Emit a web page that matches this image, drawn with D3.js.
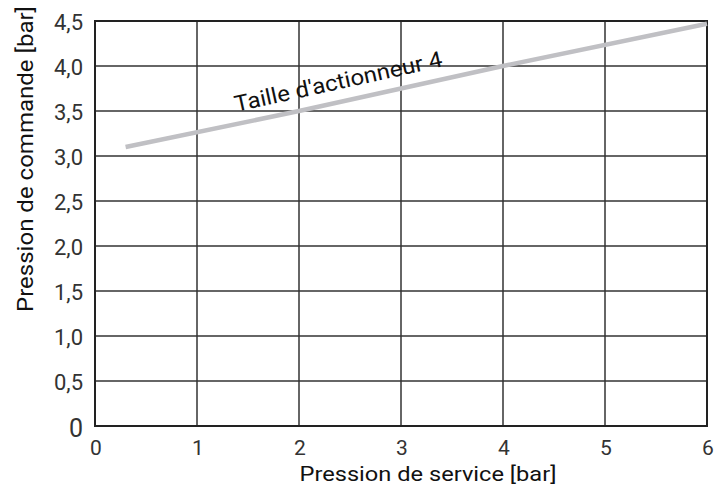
<!DOCTYPE html>
<html><head><meta charset="utf-8">
<script src="https://cdn.jsdelivr.net/npm/d3@7"></script>
<style>body{margin:0;background:#fff;} svg{display:block;font-family:Roboto, "Noto Sans", sans-serif;}</style>
</head><body>
<svg id="c" width="718" height="488"></svg>
<script>
const xTicks = [0,1,2,3,4,5,6];
const xTickLabels = ["0","1","2","3","4","5","6"];
const yTicks = [0,0.5,1,1.5,2,2.5,3,3.5,4,4.5];
const yTickLabels = ["0","0,5","1,0","1,5","2,0","2,5","3,0","3,5","4,0","4,5"];
const seriesX = [0.3, 2, 4, 6];
const seriesY = [3.1, 3.5, 4.0, 4.47];
const seriesName = "Taille d'actionneur 4";
const xTitle = "Pression de service [bar]";
const yTitle = "Pression de commande [bar]";

const m = {l:95, r:11, t:21, b:62};
const W = 718, H = 488;
const svg = d3.select("#c");
const x = d3.scaleLinear().domain([0,6]).range([m.l, W-m.r]);
const y = d3.scaleLinear().domain([0,4.5]).range([H-m.b, m.t]);

const g = svg.append("g");
g.selectAll(".vg").data(xTicks).join("line")
  .attr("x1",d=>x(d)).attr("x2",d=>x(d)).attr("y1",y(0)).attr("y2",y(4.5))
  .attr("stroke","#333").attr("stroke-width",1.5);
g.selectAll(".hg").data(yTicks).join("line")
  .attr("y1",d=>y(d)).attr("y2",d=>y(d)).attr("x1",x(0)).attr("x2",x(6))
  .attr("stroke","#333").attr("stroke-width",1.5);
g.append("rect").attr("x",x(0)).attr("y",y(4.5)).attr("width",x(6)-x(0)).attr("height",y(0)-y(4.5))
  .attr("fill","none").attr("stroke","#222").attr("stroke-width",2);

const pts = seriesX.map((v,i)=>[v,seriesY[i]]);
const lineGen = d3.line().x(d=>x(d[0])).y(d=>y(d[1]));
g.append("path").datum(pts).attr("d", lineGen)
  .attr("fill","none").attr("stroke","#c0c0c4").attr("stroke-width",4.5);

const interp = d3.scaleLinear().domain(seriesX).range(seriesY);
const lxv = 2.4;
const lx = x(lxv), ly = y(interp(lxv)) - 13;
const ang = Math.atan2(y(4.0)-y(3.5), x(4)-x(2)) * 180/Math.PI;
svg.append("text").attr("transform",`translate(${lx},${ly}) rotate(${ang})`)
  .attr("text-anchor","middle").attr("font-size",22).attr("fill","#111")
  .attr("textLength",212).attr("lengthAdjust","spacingAndGlyphs").text(seriesName);

svg.selectAll(".xt").data(xTicks).join("text")
  .attr("x",d=>x(d)+1).attr("y",y(0)+29).attr("text-anchor","middle")
  .attr("font-size",21).attr("fill","#333").text((d,i)=>xTickLabels[i]);
svg.selectAll(".yt").data(yTicks).join("text")
  .attr("x",83).attr("y",d=>y(d)+(d===0?11:9)).attr("text-anchor","end")
  .attr("font-size",d=>d===0?25:22).attr("fill","#333").text((d,i)=>yTickLabels[i]);

svg.append("text").attr("x",428).attr("y",481).attr("text-anchor","middle")
  .attr("font-size",21).attr("fill","#111")
  .attr("textLength",257).attr("lengthAdjust","spacingAndGlyphs").text(xTitle);
svg.append("text").attr("transform",`translate(33,159) rotate(-90)`)
  .attr("text-anchor","middle").attr("font-size",22).attr("fill","#111")
  .attr("textLength",306).attr("lengthAdjust","spacingAndGlyphs").text(yTitle);
</script>
</body></html>
